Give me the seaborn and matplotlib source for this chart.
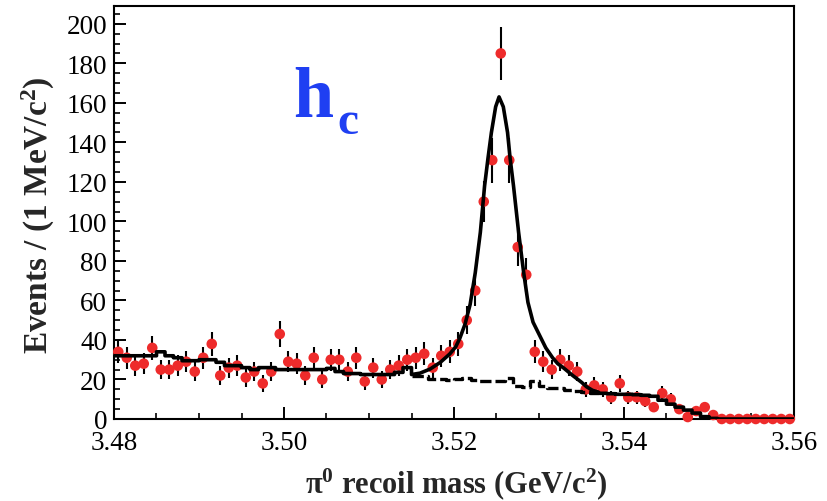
import numpy as np
import pandas as pd
import matplotlib
matplotlib.use("Agg")
import matplotlib.pyplot as plt
import seaborn as sns
from matplotlib.ticker import MultipleLocator

# ---------------- data ----------------
bin_low = 3.480          # GeV, first bin edge
bin_width = 0.001        # 1 MeV bins
n_bins = 80

counts = [34, 31, 27, 28, 36, 25, 25, 27, 29, 24,
          31, 38, 22, 26, 27, 21, 24, 18, 24, 43,
          29, 28, 22, 31, 20, 30, 30, 24, 31, 19,
          26, 20, 25, 27, 30, 31, 33, 26, 32, 34,
          38, 50, 65, 110, 131, 185, 131, 87, 73, 34,
          29, 25, 30, 27, 24, 15, 17, 15, 11, 18,
          11, 11, 9, 6, 13, 10, 5, 1, 4, 6,
          2, 0, 0, 0, 0, 0, 0, 0, 0, 0]

background = [32, 32, 32, 32, 32, 34, 32, 31, 29.5, 29.5,
              30, 30, 28.7, 27, 27, 26, 25, 26, 26, 25,
              25, 25, 25, 25, 25, 25.6, 24, 23, 23, 22.5,
              22.5, 22.5, 22.5, 23.6, 26, 22, 22, 20.3, 20, 19.5,
              20, 21, 19.5, 19.4, 19.4, 19.4, 20.5, 16.5, 16, 19,
              16.5, 15.5, 15.5, 14.5, 14, 13.5, 13.2, 13, 12.8, 12.5,
              12.5, 12.3, 12, 11.5, 9.5, 7.5, 6, 4.5, 3, 1.2,
              0.3, 0, 0, 0, 0, 0, 0, 0, 0, 0]

# total fit (signal + background) in the peak region, smooth part
fit_mass = [3.5150, 3.5160, 3.5172, 3.5184, 3.5195, 3.5202, 3.5207, 3.5213,
            3.5219, 3.5225, 3.5231, 3.5236, 3.5240, 3.5244, 3.5249, 3.5253,
            3.5258, 3.5263, 3.5266, 3.5270, 3.5276, 3.5282, 3.5287, 3.5293,
            3.5301, 3.5308, 3.5316, 3.5322, 3.5329, 3.5340, 3.5350, 3.5356,
            3.5363, 3.5370]
fit_total = [22.5, 23.2, 25.3, 28.7, 32.9, 36.5, 41, 48,
             58, 74, 94.5, 118, 132, 145, 158, 163,
             158, 145, 132, 118, 94.5, 74, 59, 49,
             42, 36, 31, 28, 25.8, 21.9, 18.6, 16.3,
             14.5, 13.6]

fit_lo_bin = 35   # smooth total starts at this bin edge (3.515)
fit_hi_bin = 57   # and ends at this bin edge (3.537)

x_ticks = [3.48, 3.50, 3.52, 3.54, 3.56]
x_tick_labels = ["3.48", "3.50", "3.52", "3.54", "3.56"]
y_ticks = [0, 20, 40, 60, 80, 100, 120, 140, 160, 180, 200]

# ---------------- derived tables ----------------
edges = bin_low + bin_width * np.arange(n_bins + 1)
centers = 0.5 * (edges[:-1] + edges[1:])
df = pd.DataFrame({"mass": centers, "events": counts})
df["err"] = np.sqrt(df["events"])


def step_points(lo, hi, vals):
    xs, ys = [], []
    for i in range(lo, hi):
        xs += [edges[i], edges[i + 1]]
        ys += [vals[i], vals[i]]
    return xs, ys


lx, ly = step_points(0, fit_lo_bin, background)
rx, ry = step_points(fit_hi_bin, n_bins, background)
total_df = pd.DataFrame({"mass": lx + list(fit_mass) + rx,
                         "val": ly + list(fit_total) + ry})
bx, by = step_points(fit_lo_bin, fit_hi_bin, background)
bkg_df = pd.DataFrame({"mass": bx, "val": by})

# ---------------- style ----------------
sns.set_theme(style="ticks")
serif = ["Liberation Serif", "DejaVu Serif"]
plt.rcParams["font.family"] = serif
plt.rcParams["mathtext.fontset"] = "custom"
plt.rcParams["mathtext.rm"] = "Liberation Serif"
plt.rcParams["mathtext.bf"] = "Liberation Serif:bold"
plt.rcParams["mathtext.it"] = "Liberation Serif:italic"

fig = plt.figure(figsize=(8.27, 5.02), dpi=100)
ax = fig.add_axes([114 / 827, 82 / 502, 680 / 827, 413 / 502])

red = "#ee2b2b"

# data error bars + markers
nz = df["events"] > 0
ax.errorbar(df["mass"][nz], df["events"][nz], yerr=df["err"][nz], fmt="none",
            ecolor="black", elinewidth=1.5, capsize=0, zorder=2)
sns.scatterplot(data=df, x="mass", y="events", ax=ax, color=red, s=58,
                edgecolor="none", linewidth=0, zorder=3, clip_on=False,
                legend=False)

# background (dashed) and total fit (solid)
sns.lineplot(data=bkg_df, x="mass", y="val", ax=ax, sort=False,
             estimator=None, color="black", lw=2.4, zorder=4)
ax.lines[-1].set_dashes([3.4, 1.2])
sns.lineplot(data=total_df, x="mass", y="val", ax=ax, sort=False,
             estimator=None, color="black", lw=2.6, zorder=5)

ax.set_xlim(3.48, 3.56)
ax.set_ylim(0, 209)
ax.set_xticks(x_ticks)
ax.set_xticklabels(x_tick_labels)
ax.set_yticks(y_ticks)
ax.set_yticklabels([str(v) for v in y_ticks])
ax.xaxis.set_minor_locator(MultipleLocator(0.005))
ax.yaxis.set_minor_locator(MultipleLocator(5))
ax.tick_params(axis="both", which="major", direction="in", length=8.5,
               width=1.4, labelsize=19.5, colors="black", top=False, right=False)
ax.tick_params(axis="both", which="minor", direction="in", length=4.5,
               width=1.4, top=False, right=False)
ax.tick_params(axis="y", which="major", pad=5)
ax.tick_params(axis="x", which="major", pad=8)
for lab in ax.get_xticklabels() + ax.get_yticklabels():
    lab.set_fontfamily(serif)
for s in ax.spines.values():
    s.set_visible(True)
    s.set_linewidth(1.5)
    s.set_color("black")
ax.set_xlabel("")
ax.set_ylabel("")

fig.text(38 / 827, 1 - 215 / 502, r"Events / (1 MeV/c$^{\mathbf{2}}$)",
         rotation=90, ha="center", va="center", fontsize=24,
         fontweight="bold", family=serif)
fig.text(456 / 827, 1 - 484 / 502,
         r"$\mathbf{\pi}^{\mathbf{0}}$ recoil mass (GeV/c$^{\mathbf{2}}$)",
         ha="center", va="center", fontsize=22, fontweight="bold",
         family=serif)

blue = "#1f3ff2"
fig.text(293 / 827, 1 - 117 / 502, "h", ha="left", va="baseline",
         fontsize=52, fontweight="bold", color=blue, family=serif)
fig.text(337 / 827, 1 - 134 / 502, "c", ha="left", va="baseline",
         fontsize=34, fontweight="bold", color=blue, family=serif)

fig.savefig("out.png", dpi=100)
